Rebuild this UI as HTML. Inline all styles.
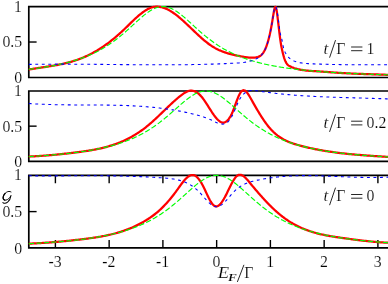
<!DOCTYPE html>
<html><head><meta charset="utf-8"><style>
html,body{margin:0;padding:0;background:#fff;}
body{width:388px;height:284px;position:relative;overflow:hidden;font-family:"Liberation Serif",serif;color:#000;}
</style></head><body>
<svg width="388" height="284" viewBox="0 0 388 284" style="position:absolute;left:0;top:0">
<path d="M393,6.55 L28.8,6.55 L28.8,77.5 L393,77.5" fill="none" stroke="#000" stroke-width="1.7" stroke-linejoin="miter"/>
<path d="M28.8,42.02 h7.8" stroke="#000" stroke-width="1.4" fill="none"/>
<path d="M393,91.0 L28.8,91.0 L28.8,161.3 L393,161.3" fill="none" stroke="#000" stroke-width="1.7" stroke-linejoin="miter"/>
<path d="M28.8,126.15 h7.8" stroke="#000" stroke-width="1.4" fill="none"/>
<path d="M393,175.3 L28.8,175.3 L28.8,247.9 L393,247.9" fill="none" stroke="#000" stroke-width="1.7" stroke-linejoin="miter"/>
<path d="M28.8,211.60 h7.8" stroke="#000" stroke-width="1.4" fill="none"/>
<path d="M55.40,175.3 v8 M55.40,247.9 v-8" stroke="#000" stroke-width="1.4" fill="none"/>
<path d="M109.15,175.3 v8 M109.15,247.9 v-8" stroke="#000" stroke-width="1.4" fill="none"/>
<path d="M162.90,175.3 v8 M162.90,247.9 v-8" stroke="#000" stroke-width="1.4" fill="none"/>
<path d="M216.65,175.3 v8 M216.65,247.9 v-8" stroke="#000" stroke-width="1.4" fill="none"/>
<path d="M270.40,175.3 v8 M270.40,247.9 v-8" stroke="#000" stroke-width="1.4" fill="none"/>
<path d="M324.15,175.3 v8 M324.15,247.9 v-8" stroke="#000" stroke-width="1.4" fill="none"/>
<path d="M377.90,175.3 v8 M377.90,247.9 v-8" stroke="#000" stroke-width="1.4" fill="none"/>
<path d="M28.8,69.53 L29.8,69.36 L30.8,69.19 L31.8,69.03 L32.8,68.86 L33.8,68.70 L34.8,68.55 L35.8,68.39 L36.8,68.24 L37.8,68.08 L38.8,67.93 L39.8,67.78 L40.8,67.63 L41.8,67.48 L42.8,67.33 L43.8,67.18 L44.8,67.03 L45.8,66.88 L46.8,66.73 L47.8,66.57 L48.8,66.42 L49.8,66.26 L50.8,66.09 L51.8,65.93 L52.8,65.76 L53.8,65.59 L54.8,65.42 L55.8,65.24 L56.8,65.05 L57.8,64.86 L58.8,64.67 L59.8,64.47 L60.8,64.27 L61.8,64.06 L62.8,63.84 L63.8,63.62 L64.8,63.38 L65.8,63.15 L66.8,62.90 L67.8,62.65 L68.8,62.39 L69.8,62.12 L70.8,61.84 L71.8,61.55 L72.8,61.25 L73.8,60.95 L74.8,60.63 L75.8,60.30 L76.8,59.97 L77.8,59.62 L78.8,59.26 L79.8,58.89 L80.8,58.50 L81.8,58.11 L82.8,57.70 L83.8,57.28 L84.8,56.85 L85.8,56.40 L86.8,55.94 L87.8,55.47 L88.8,54.98 L89.8,54.48 L90.8,53.97 L91.8,53.45 L92.8,52.91 L93.8,52.36 L94.8,51.80 L95.8,51.22 L96.8,50.64 L97.8,50.03 L98.8,49.42 L99.8,48.79 L100.8,48.15 L101.8,47.50 L102.8,46.83 L103.8,46.15 L104.8,45.45 L105.8,44.75 L106.8,44.03 L107.8,43.29 L108.8,42.54 L109.8,41.78 L110.8,41.01 L111.8,40.22 L112.8,39.42 L113.8,38.61 L114.8,37.78 L115.8,36.94 L116.8,36.09 L117.8,35.22 L118.8,34.34 L119.8,33.45 L120.8,32.54 L121.8,31.62 L122.8,30.68 L123.8,29.73 L124.8,28.77 L125.8,27.80 L126.8,26.83 L127.8,25.84 L128.8,24.86 L129.8,23.88 L130.8,22.89 L131.8,21.92 L132.8,20.95 L133.8,19.99 L134.8,19.05 L135.8,18.12 L136.8,17.21 L137.8,16.32 L138.8,15.45 L139.8,14.61 L140.8,13.80 L141.8,13.02 L142.8,12.27 L143.8,11.56 L144.8,10.88 L145.8,10.25 L146.8,9.66 L147.8,9.11 L148.8,8.62 L149.8,8.17 L150.8,7.78 L151.8,7.45 L152.8,7.17 L153.8,6.95 L154.8,6.80 L155.8,6.70 L156.8,6.66 L157.8,6.68 L158.8,6.75 L159.8,6.87 L160.8,7.05 L161.8,7.27 L162.8,7.54 L163.8,7.86 L164.8,8.22 L165.8,8.62 L166.8,9.07 L167.8,9.55 L168.8,10.08 L169.8,10.64 L170.8,11.23 L171.8,11.86 L172.8,12.52 L173.8,13.21 L174.8,13.93 L175.8,14.67 L176.8,15.44 L177.8,16.24 L178.8,17.05 L179.8,17.89 L180.8,18.75 L181.8,19.62 L182.8,20.51 L183.8,21.42 L184.8,22.33 L185.8,23.26 L186.8,24.20 L187.8,25.14 L188.8,26.10 L189.8,27.05 L190.8,28.01 L191.8,28.97 L192.8,29.93 L193.8,30.89 L194.8,31.85 L195.8,32.80 L196.8,33.75 L197.8,34.68 L198.8,35.61 L199.8,36.53 L200.8,37.43 L201.8,38.32 L202.8,39.19 L203.8,40.05 L204.8,40.88 L205.8,41.70 L206.8,42.49 L207.8,43.26 L208.8,44.01 L209.8,44.72 L210.8,45.41 L211.8,46.07 L212.8,46.70 L213.8,47.30 L214.8,47.88 L215.8,48.43 L216.8,48.95 L217.8,49.45 L218.8,49.93 L219.8,50.38 L220.8,50.82 L221.8,51.23 L222.8,51.62 L223.8,51.99 L224.8,52.35 L225.8,52.69 L226.8,53.01 L227.8,53.32 L228.8,53.61 L229.8,53.89 L230.8,54.16 L231.8,54.41 L232.8,54.65 L233.8,54.89 L234.8,55.11 L235.8,55.33 L236.8,55.54 L237.8,55.74 L238.8,55.94 L239.8,56.13 L240.8,56.32 L241.8,56.50 L242.8,56.69 L243.8,56.86 L244.8,57.03 L245.8,57.18 L246.8,57.32 L247.8,57.44 L248.8,57.55 L249.8,57.62 L250.8,57.67 L251.8,57.69 L252.8,57.68 L253.8,57.63 L254.8,57.54 L255.8,57.41 L256.8,57.23 L257.8,56.99 L258.8,56.63 L259.8,56.13 L260.0,56.01 L260.4,55.74 L260.8,55.44 L261.2,55.10 L261.6,54.73 L262.0,54.31 L262.4,53.85 L262.8,53.34 L263.2,52.79 L263.6,52.18 L264.0,51.52 L264.4,50.80 L264.8,50.02 L265.2,49.19 L265.6,48.28 L266.0,47.32 L266.4,46.28 L266.8,45.17 L267.2,43.99 L267.6,42.73 L268.0,41.39 L268.4,39.97 L268.8,38.46 L269.2,36.86 L269.6,35.18 L270.0,33.40 L270.4,31.53 L270.8,29.56 L271.2,27.48 L271.6,25.31 L272.0,23.03 L272.4,20.63 L272.8,18.14 L273.2,15.63 L273.6,13.21 L274.0,11.02 L274.4,9.16 L274.8,7.77 L275.2,6.96 L275.6,6.86 L276.0,7.58 L276.4,9.16 L276.8,11.44 L277.2,14.25 L277.6,17.43 L278.0,20.80 L278.4,24.23 L278.8,27.67 L279.2,31.06 L279.6,34.35 L280.0,37.49 L280.4,40.44 L280.8,43.14 L281.2,45.54 L281.6,47.66 L282.0,49.55 L282.4,51.28 L282.8,52.93 L283.2,54.50 L283.6,55.99 L284.0,57.36 L284.4,58.61 L284.8,59.73 L285.2,60.73 L285.6,61.61 L286.0,62.39 L286.4,63.08 L286.8,63.67 L287.2,64.19 L287.6,64.64 L288.0,65.02 L288.4,65.35 L288.8,65.64 L289.2,65.89 L289.6,66.10 L290.0,66.30 L290.4,66.49 L290.8,66.67 L291.2,66.85 L291.6,67.02 L292.0,67.19 L293.0,67.58 L294.0,67.95 L295.0,68.29 L296.0,68.59 L297.0,68.88 L298.0,69.14 L299.0,69.37 L300.0,69.59 L301.0,69.79 L302.0,69.96 L303.0,70.12 L304.0,70.26 L305.0,70.39 L306.0,70.51 L307.0,70.61 L308.0,70.70 L309.0,70.79 L310.0,70.86 L311.0,70.94 L312.0,71.00 L313.0,71.06 L314.0,71.12 L315.0,71.18 L316.0,71.24 L317.0,71.30 L318.0,71.37 L319.0,71.43 L320.0,71.50 L321.0,71.57 L322.0,71.64 L323.0,71.71 L324.0,71.78 L325.0,71.85 L326.0,71.92 L327.0,71.99 L328.0,72.07 L329.0,72.14 L330.0,72.21 L331.0,72.29 L332.0,72.36 L333.0,72.43 L334.0,72.50 L335.0,72.57 L336.0,72.64 L337.0,72.71 L338.0,72.78 L339.0,72.84 L340.0,72.91 L341.0,72.97 L342.0,73.03 L343.0,73.09 L344.0,73.15 L345.0,73.20 L346.0,73.25 L347.0,73.31 L348.0,73.36 L349.0,73.41 L350.0,73.45 L351.0,73.50 L352.0,73.54 L353.0,73.59 L354.0,73.63 L355.0,73.67 L356.0,73.71 L357.0,73.75 L358.0,73.79 L359.0,73.83 L360.0,73.87 L361.0,73.91 L362.0,73.94 L363.0,73.98 L364.0,74.01 L365.0,74.05 L366.0,74.08 L367.0,74.11 L368.0,74.15 L369.0,74.18 L370.0,74.21 L371.0,74.25 L372.0,74.28 L373.0,74.31 L374.0,74.34 L375.0,74.38 L376.0,74.41 L377.0,74.44 L378.0,74.48 L379.0,74.51 L380.0,74.54 L381.0,74.58 L382.0,74.61 L383.0,74.65 L384.0,74.69 L385.0,74.72 L386.0,74.76 L387.0,74.80 L388.0,74.84 L389.0,74.84 L390.0,74.84" fill="none" stroke="#ff0000" stroke-width="2.25" stroke-linejoin="round"/>
<path d="M28.8,69.37 L29.8,69.26 L30.8,69.14 L31.8,69.01 L32.8,68.89 L33.8,68.76 L34.8,68.63 L35.8,68.50 L36.8,68.36 L37.8,68.22 L38.8,68.08 L39.8,67.94 L40.8,67.79 L41.8,67.65 L42.8,67.49 L43.8,67.34 L44.8,67.18 L45.8,67.02 L46.8,66.85 L47.8,66.68 L48.8,66.51 L49.8,66.34 L50.8,66.16 L51.8,65.98 L52.8,65.79 L53.8,65.60 L54.8,65.40 L55.8,65.20 L56.8,65.00 L57.8,64.79 L58.8,64.58 L59.8,64.36 L60.8,64.14 L61.8,63.92 L62.8,63.68 L63.8,63.45 L64.8,63.21 L65.8,62.96 L66.8,62.71 L67.8,62.45 L68.8,62.18 L69.8,61.91 L70.8,61.64 L71.8,61.36 L72.8,61.07 L73.8,60.77 L74.8,60.47 L75.8,60.16 L76.8,59.84 L77.8,59.52 L78.8,59.19 L79.8,58.85 L80.8,58.50 L81.8,58.15 L82.8,57.78 L83.8,57.41 L84.8,57.03 L85.8,56.64 L86.8,56.24 L87.8,55.83 L88.8,55.42 L89.8,54.99 L90.8,54.55 L91.8,54.10 L92.8,53.64 L93.8,53.17 L94.8,52.69 L95.8,52.20 L96.8,51.70 L97.8,51.19 L98.8,50.66 L99.8,50.12 L100.8,49.57 L101.8,49.01 L102.8,48.43 L103.8,47.84 L104.8,47.24 L105.8,46.63 L106.8,46.00 L107.8,45.36 L108.8,44.70 L109.8,44.03 L110.8,43.35 L111.8,42.65 L112.8,41.94 L113.8,41.22 L114.8,40.48 L115.8,39.73 L116.8,38.96 L117.8,38.18 L118.8,37.39 L119.8,36.58 L120.8,35.77 L121.8,34.93 L122.8,34.09 L123.8,33.24 L124.8,32.38 L125.8,31.50 L126.8,30.62 L127.8,29.73 L128.8,28.83 L129.8,27.92 L130.8,27.01 L131.8,26.10 L132.8,25.18 L133.8,24.26 L134.8,23.35 L135.8,22.43 L136.8,21.52 L137.8,20.62 L138.8,19.72 L139.8,18.83 L140.8,17.96 L141.8,17.09 L142.8,16.25 L143.8,15.43 L144.8,14.62 L145.8,13.84 L146.8,13.09 L147.8,12.37 L148.8,11.67 L149.8,11.02 L150.8,10.40 L151.8,9.81 L152.8,9.27 L153.8,8.78 L154.8,8.33 L155.8,7.92 L156.8,7.57 L157.8,7.26 L158.8,7.01 L159.8,6.82 L160.8,6.67 L161.8,6.58 L162.8,6.55 L163.8,6.57 L164.8,6.65 L165.8,6.78 L166.8,6.97 L167.8,7.21 L168.8,7.50 L169.8,7.85 L170.8,8.24 L171.8,8.68 L172.8,9.17 L173.8,9.70 L174.8,10.28 L175.8,10.89 L176.8,11.54 L177.8,12.23 L178.8,12.94 L179.8,13.69 L180.8,14.46 L181.8,15.26 L182.8,16.08 L183.8,16.92 L184.8,17.78 L185.8,18.65 L186.8,19.54 L187.8,20.44 L188.8,21.34 L189.8,22.25 L190.8,23.16 L191.8,24.08 L192.8,25.00 L193.8,25.92 L194.8,26.83 L195.8,27.74 L196.8,28.65 L197.8,29.55 L198.8,30.44 L199.8,31.33 L200.8,32.20 L201.8,33.07 L202.8,33.92 L203.8,34.77 L204.8,35.60 L205.8,36.42 L206.8,37.23 L207.8,38.02 L208.8,38.81 L209.8,39.57 L210.8,40.33 L211.8,41.07 L212.8,41.80 L213.8,42.51 L214.8,43.21 L215.8,43.90 L216.8,44.57 L217.8,45.23 L218.8,45.87 L219.8,46.50 L220.8,47.12 L221.8,47.72 L222.8,48.32 L223.8,48.89 L224.8,49.46 L225.8,50.01 L226.8,50.55 L227.8,51.08 L228.8,51.60 L229.8,52.10 L230.8,52.60 L231.8,53.08 L232.8,53.55 L233.8,54.01 L234.8,54.46 L235.8,54.90 L236.8,55.33 L237.8,55.75 L238.8,56.16 L239.8,56.56 L240.8,56.95 L241.8,57.33 L242.8,57.71 L243.8,58.07 L244.8,58.43 L245.8,58.78 L246.8,59.12 L247.8,59.45 L248.8,59.78 L249.8,60.10 L250.8,60.41 L251.8,60.71 L252.8,61.01 L253.8,61.30 L254.8,61.58 L255.8,61.86 L256.8,62.13 L257.8,62.40 L258.8,62.66 L259.8,62.91 L260.0,62.96 L260.4,63.06 L260.8,63.16 L261.2,63.26 L261.6,63.35 L262.0,63.45 L262.4,63.54 L262.8,63.64 L263.2,63.73 L263.6,63.82 L264.0,63.92 L264.4,64.01 L264.8,64.10 L265.2,64.19 L265.6,64.28 L266.0,64.36 L266.4,64.45 L266.8,64.54 L267.2,64.62 L267.6,64.71 L268.0,64.79 L268.4,64.88 L268.8,64.96 L269.2,65.04 L269.6,65.12 L270.0,65.20 L270.4,65.28 L270.8,65.36 L271.2,65.44 L271.6,65.52 L272.0,65.60 L272.4,65.67 L272.8,65.75 L273.2,65.83 L273.6,65.90 L274.0,65.98 L274.4,66.05 L274.8,66.12 L275.2,66.19 L275.6,66.27 L276.0,66.34 L276.4,66.41 L276.8,66.48 L277.2,66.55 L277.6,66.62 L278.0,66.68 L278.4,66.75 L278.8,66.82 L279.2,66.89 L279.6,66.95 L280.0,67.02 L280.4,67.08 L280.8,67.15 L281.2,67.21 L281.6,67.28 L282.0,67.34 L282.4,67.40 L282.8,67.46 L283.2,67.52 L283.6,67.59 L284.0,67.65 L284.4,67.71 L284.8,67.77 L285.2,67.82 L285.6,67.88 L286.0,67.94 L286.4,68.00 L286.8,68.06 L287.2,68.11 L287.6,68.17 L288.0,68.22 L288.4,68.28 L288.8,68.34 L289.2,68.39 L289.6,68.44 L290.0,68.50 L290.4,68.55 L290.8,68.60 L291.2,68.66 L291.6,68.71 L292.0,68.76 L293.0,68.89 L294.0,69.01 L295.0,69.14 L296.0,69.26 L297.0,69.37 L298.0,69.49 L299.0,69.60 L300.0,69.72 L301.0,69.82 L302.0,69.93 L303.0,70.04 L304.0,70.14 L305.0,70.24 L306.0,70.34 L307.0,70.44 L308.0,70.54 L309.0,70.63 L310.0,70.73 L311.0,70.82 L312.0,70.91 L313.0,70.99 L314.0,71.08 L315.0,71.17 L316.0,71.25 L317.0,71.33 L318.0,71.41 L319.0,71.49 L320.0,71.57 L321.0,71.65 L322.0,71.72 L323.0,71.80 L324.0,71.87 L325.0,71.94 L326.0,72.01 L327.0,72.08 L328.0,72.15 L329.0,72.22 L330.0,72.28 L331.0,72.35 L332.0,72.41 L333.0,72.48 L334.0,72.54 L335.0,72.60 L336.0,72.66 L337.0,72.72 L338.0,72.78 L339.0,72.83 L340.0,72.89 L341.0,72.94 L342.0,73.00 L343.0,73.05 L344.0,73.11 L345.0,73.16 L346.0,73.21 L347.0,73.26 L348.0,73.31 L349.0,73.36 L350.0,73.41 L351.0,73.45 L352.0,73.50 L353.0,73.55 L354.0,73.59 L355.0,73.64 L356.0,73.68 L357.0,73.73 L358.0,73.77 L359.0,73.81 L360.0,73.85 L361.0,73.89 L362.0,73.93 L363.0,73.97 L364.0,74.01 L365.0,74.05 L366.0,74.09 L367.0,74.13 L368.0,74.16 L369.0,74.20 L370.0,74.24 L371.0,74.27 L372.0,74.31 L373.0,74.34 L374.0,74.38 L375.0,74.41 L376.0,74.44 L377.0,74.48 L378.0,74.51 L379.0,74.54 L380.0,74.57 L381.0,74.60 L382.0,74.63 L383.0,74.66 L384.0,74.69 L385.0,74.72 L386.0,74.75 L387.0,74.78 L388.0,74.81 L389.0,74.84 L390.0,74.86" fill="none" stroke="#00ff00" stroke-width="1.15" stroke-dasharray="5.3 2.2"/>
<path d="M28.8,64.40 L29.8,64.39 L30.8,64.37 L31.8,64.36 L32.8,64.34 L33.8,64.33 L34.8,64.31 L35.8,64.30 L36.8,64.29 L37.8,64.28 L38.8,64.27 L39.8,64.25 L40.8,64.24 L41.8,64.24 L42.8,64.23 L43.8,64.22 L44.8,64.21 L45.8,64.20 L46.8,64.20 L47.8,64.19 L48.8,64.18 L49.8,64.18 L50.8,64.17 L51.8,64.17 L52.8,64.17 L53.8,64.16 L54.8,64.16 L55.8,64.16 L56.8,64.16 L57.8,64.15 L58.8,64.15 L59.8,64.15 L60.8,64.15 L61.8,64.15 L62.8,64.15 L63.8,64.15 L64.8,64.16 L65.8,64.16 L66.8,64.16 L67.8,64.16 L68.8,64.16 L69.8,64.17 L70.8,64.17 L71.8,64.18 L72.8,64.18 L73.8,64.18 L74.8,64.19 L75.8,64.19 L76.8,64.20 L77.8,64.20 L78.8,64.21 L79.8,64.22 L80.8,64.22 L81.8,64.23 L82.8,64.24 L83.8,64.24 L84.8,64.25 L85.8,64.26 L86.8,64.27 L87.8,64.27 L88.8,64.28 L89.8,64.29 L90.8,64.30 L91.8,64.31 L92.8,64.32 L93.8,64.32 L94.8,64.33 L95.8,64.34 L96.8,64.35 L97.8,64.36 L98.8,64.37 L99.8,64.38 L100.8,64.39 L101.8,64.40 L102.8,64.41 L103.8,64.42 L104.8,64.43 L105.8,64.44 L106.8,64.45 L107.8,64.46 L108.8,64.47 L109.8,64.48 L110.8,64.49 L111.8,64.50 L112.8,64.51 L113.8,64.52 L114.8,64.53 L115.8,64.54 L116.8,64.55 L117.8,64.56 L118.8,64.57 L119.8,64.58 L120.8,64.59 L121.8,64.60 L122.8,64.61 L123.8,64.62 L124.8,64.63 L125.8,64.64 L126.8,64.65 L127.8,64.66 L128.8,64.66 L129.8,64.67 L130.8,64.68 L131.8,64.69 L132.8,64.70 L133.8,64.71 L134.8,64.71 L135.8,64.72 L136.8,64.73 L137.8,64.74 L138.8,64.74 L139.8,64.75 L140.8,64.76 L141.8,64.76 L142.8,64.77 L143.8,64.78 L144.8,64.78 L145.8,64.79 L146.8,64.79 L147.8,64.80 L148.8,64.80 L149.8,64.80 L150.8,64.81 L151.8,64.81 L152.8,64.82 L153.8,64.82 L154.8,64.82 L155.8,64.82 L156.8,64.82 L157.8,64.83 L158.8,64.83 L159.8,64.83 L160.8,64.83 L161.8,64.83 L162.8,64.83 L163.8,64.83 L164.8,64.82 L165.8,64.82 L166.8,64.82 L167.8,64.82 L168.8,64.81 L169.8,64.81 L170.8,64.81 L171.8,64.80 L172.8,64.80 L173.8,64.79 L174.8,64.78 L175.8,64.78 L176.8,64.77 L177.8,64.76 L178.8,64.75 L179.8,64.75 L180.8,64.74 L181.8,64.73 L182.8,64.72 L183.8,64.71 L184.8,64.69 L185.8,64.68 L186.8,64.67 L187.8,64.65 L188.8,64.64 L189.8,64.63 L190.8,64.61 L191.8,64.59 L192.8,64.58 L193.8,64.56 L194.8,64.54 L195.8,64.52 L196.8,64.50 L197.8,64.48 L198.8,64.46 L199.8,64.44 L200.8,64.42 L201.8,64.40 L202.8,64.37 L203.8,64.35 L204.8,64.32 L205.8,64.30 L206.8,64.27 L207.8,64.24 L208.8,64.21 L209.8,64.19 L210.8,64.16 L211.8,64.12 L212.8,64.09 L213.8,64.06 L214.8,64.03 L215.8,63.99 L216.8,63.96 L217.8,63.92 L218.8,63.89 L219.8,63.85 L220.8,63.81 L221.8,63.77 L222.8,63.73 L223.8,63.69 L224.8,63.65 L225.8,63.61 L226.8,63.56 L227.8,63.52 L228.8,63.47 L229.8,63.42 L230.8,63.38 L231.8,63.33 L232.8,63.28 L233.8,63.23 L234.8,63.18 L235.8,63.12 L236.8,63.06 L237.8,63.00 L238.8,62.93 L239.8,62.85 L240.8,62.77 L241.8,62.67 L242.8,62.56 L243.8,62.43 L244.8,62.29 L245.8,62.13 L246.8,61.96 L247.8,61.77 L248.8,61.55 L249.8,61.31 L250.8,61.05 L251.8,60.76 L252.8,60.42 L253.8,60.05 L254.8,59.62 L255.8,59.14 L256.8,58.60 L257.8,57.99 L258.8,57.31 L259.8,56.54 L260.0,56.38 L260.4,56.03 L260.8,55.66 L261.2,55.26 L261.6,54.84 L262.0,54.38 L262.4,53.89 L262.8,53.36 L263.2,52.78 L263.6,52.17 L264.0,51.50 L264.4,50.79 L264.8,50.02 L265.2,49.19 L265.6,48.31 L266.0,47.36 L266.4,46.35 L266.8,45.27 L267.2,44.12 L267.6,42.90 L268.0,41.59 L268.4,40.21 L268.8,38.74 L269.2,37.19 L269.6,35.55 L270.0,33.81 L270.4,31.96 L270.8,30.01 L271.2,27.93 L271.6,25.72 L272.0,23.37 L272.4,20.87 L272.8,18.22 L273.2,15.52 L273.6,12.94 L274.0,10.63 L274.4,8.74 L274.8,7.42 L275.2,6.78 L275.6,6.76 L276.0,7.33 L276.4,8.41 L276.8,9.98 L277.2,11.96 L277.6,14.31 L278.0,16.98 L278.4,19.92 L278.8,23.04 L279.2,26.20 L279.6,29.19 L280.0,31.84 L280.4,33.97 L280.8,35.61 L281.2,37.02 L281.6,38.44 L282.0,40.12 L282.4,42.09 L282.8,44.18 L283.2,46.18 L283.6,47.91 L284.0,49.36 L284.4,50.56 L284.8,51.56 L285.2,52.41 L285.6,53.16 L286.0,53.84 L286.4,54.49 L286.8,55.08 L287.2,55.64 L287.6,56.16 L288.0,56.65 L288.4,57.10 L288.8,57.51 L289.2,57.90 L289.6,58.26 L290.0,58.59 L290.4,58.90 L290.8,59.18 L291.2,59.45 L291.6,59.69 L292.0,59.92 L293.0,60.43 L294.0,60.88 L295.0,61.29 L296.0,61.65 L297.0,61.97 L298.0,62.25 L299.0,62.50 L300.0,62.72 L301.0,62.90 L302.0,63.06 L303.0,63.20 L304.0,63.31 L305.0,63.41 L306.0,63.49 L307.0,63.56 L308.0,63.61 L309.0,63.67 L310.0,63.71 L311.0,63.76 L312.0,63.80 L313.0,63.85 L314.0,63.89 L315.0,63.93 L316.0,63.97 L317.0,64.01 L318.0,64.04 L319.0,64.08 L320.0,64.11 L321.0,64.15 L322.0,64.18 L323.0,64.21 L324.0,64.24 L325.0,64.27 L326.0,64.30 L327.0,64.33 L328.0,64.35 L329.0,64.38 L330.0,64.40 L331.0,64.43 L332.0,64.45 L333.0,64.47 L334.0,64.49 L335.0,64.51 L336.0,64.53 L337.0,64.54 L338.0,64.56 L339.0,64.58 L340.0,64.59 L341.0,64.61 L342.0,64.62 L343.0,64.63 L344.0,64.65 L345.0,64.66 L346.0,64.67 L347.0,64.68 L348.0,64.69 L349.0,64.70 L350.0,64.70 L351.0,64.71 L352.0,64.72 L353.0,64.73 L354.0,64.73 L355.0,64.74 L356.0,64.74 L357.0,64.74 L358.0,64.75 L359.0,64.75 L360.0,64.75 L361.0,64.76 L362.0,64.76 L363.0,64.76 L364.0,64.76 L365.0,64.76 L366.0,64.76 L367.0,64.76 L368.0,64.76 L369.0,64.76 L370.0,64.76 L371.0,64.75 L372.0,64.75 L373.0,64.75 L374.0,64.75 L375.0,64.74 L376.0,64.74 L377.0,64.74 L378.0,64.74 L379.0,64.73 L380.0,64.73 L381.0,64.72 L382.0,64.72 L383.0,64.72 L384.0,64.71 L385.0,64.71 L386.0,64.71 L387.0,64.70 L388.0,64.70 L389.0,64.69 L390.0,64.69" fill="none" stroke="#0000ff" stroke-width="1.08" stroke-dasharray="2.9 3.6"/>
<path d="M28.8,156.56 L29.8,156.51 L30.8,156.47 L31.8,156.42 L32.8,156.37 L33.8,156.32 L34.8,156.26 L35.8,156.20 L36.8,156.15 L37.8,156.08 L38.8,156.02 L39.8,155.96 L40.8,155.89 L41.8,155.82 L42.8,155.75 L43.8,155.68 L44.8,155.60 L45.8,155.52 L46.8,155.45 L47.8,155.37 L48.8,155.28 L49.8,155.20 L50.8,155.11 L51.8,155.03 L52.8,154.94 L53.8,154.84 L54.8,154.75 L55.8,154.66 L56.8,154.56 L57.8,154.46 L58.8,154.36 L59.8,154.26 L60.8,154.16 L61.8,154.05 L62.8,153.95 L63.8,153.84 L64.8,153.73 L65.8,153.62 L66.8,153.51 L67.8,153.39 L68.8,153.28 L69.8,153.16 L70.8,153.04 L71.8,152.92 L72.8,152.80 L73.8,152.68 L74.8,152.55 L75.8,152.43 L76.8,152.30 L77.8,152.17 L78.8,152.04 L79.8,151.91 L80.8,151.78 L81.8,151.64 L82.8,151.50 L83.8,151.36 L84.8,151.22 L85.8,151.07 L86.8,150.92 L87.8,150.77 L88.8,150.61 L89.8,150.45 L90.8,150.28 L91.8,150.11 L92.8,149.93 L93.8,149.75 L94.8,149.56 L95.8,149.37 L96.8,149.17 L97.8,148.97 L98.8,148.75 L99.8,148.54 L100.8,148.31 L101.8,148.08 L102.8,147.84 L103.8,147.60 L104.8,147.34 L105.8,147.08 L106.8,146.81 L107.8,146.53 L108.8,146.24 L109.8,145.95 L110.8,145.64 L111.8,145.32 L112.8,145.00 L113.8,144.66 L114.8,144.32 L115.8,143.96 L116.8,143.60 L117.8,143.22 L118.8,142.83 L119.8,142.43 L120.8,142.02 L121.8,141.60 L122.8,141.16 L123.8,140.72 L124.8,140.26 L125.8,139.78 L126.8,139.30 L127.8,138.80 L128.8,138.29 L129.8,137.76 L130.8,137.22 L131.8,136.67 L132.8,136.10 L133.8,135.51 L134.8,134.91 L135.8,134.30 L136.8,133.67 L137.8,133.03 L138.8,132.37 L139.8,131.69 L140.8,131.00 L141.8,130.29 L142.8,129.56 L143.8,128.82 L144.8,128.05 L145.8,127.28 L146.8,126.48 L147.8,125.66 L148.8,124.83 L149.8,123.98 L150.8,123.12 L151.8,122.24 L152.8,121.34 L153.8,120.44 L154.8,119.52 L155.8,118.59 L156.8,117.65 L157.8,116.71 L158.8,115.76 L159.8,114.80 L160.8,113.84 L161.8,112.88 L162.8,111.92 L163.8,110.95 L164.8,109.98 L165.8,109.02 L166.8,108.06 L167.8,107.10 L168.8,106.15 L169.8,105.21 L170.8,104.27 L171.8,103.34 L172.8,102.42 L173.8,101.51 L174.8,100.62 L175.8,99.73 L176.8,98.87 L177.8,98.01 L178.8,97.18 L179.8,96.36 L180.8,95.56 L181.8,94.79 L182.8,94.06 L183.8,93.38 L184.8,92.75 L185.8,92.18 L186.8,91.69 L187.8,91.28 L188.8,90.96 L189.8,90.74 L190.8,90.63 L191.8,90.64 L192.8,90.76 L193.8,91.00 L194.8,91.36 L195.8,91.83 L196.8,92.41 L197.8,93.11 L198.8,93.93 L199.8,94.86 L200.8,95.90 L201.8,97.05 L202.8,98.31 L203.8,99.67 L204.8,101.10 L205.8,102.60 L206.8,104.14 L207.8,105.71 L208.8,107.30 L209.8,108.89 L210.8,110.47 L211.8,112.01 L212.8,113.51 L213.8,114.94 L214.8,116.30 L215.8,117.57 L216.8,118.73 L217.8,119.77 L218.8,120.67 L219.8,121.41 L220.8,121.99 L221.8,122.38 L222.8,122.57 L223.8,122.55 L224.8,122.30 L225.8,121.83 L226.8,121.12 L227.8,120.17 L228.8,118.96 L229.8,117.49 L230.8,115.75 L231.8,113.74 L232.8,111.44 L233.8,108.90 L234.8,106.21 L235.8,103.46 L236.8,100.75 L237.8,98.16 L238.8,95.80 L239.8,93.75 L240.8,92.11 L241.8,90.96 L242.8,90.34 L243.8,90.22 L244.8,90.52 L245.8,91.22 L246.8,92.25 L247.8,93.56 L248.8,95.08 L249.8,96.76 L250.8,98.52 L251.8,100.31 L252.8,102.10 L253.8,103.87 L254.8,105.63 L255.8,107.36 L256.8,109.08 L257.8,110.76 L258.8,112.43 L259.8,114.06 L260.0,114.38 L260.4,115.02 L260.8,115.66 L261.2,116.29 L261.6,116.91 L262.0,117.53 L262.4,118.14 L262.8,118.74 L263.2,119.34 L263.6,119.93 L264.0,120.52 L264.4,121.10 L264.8,121.67 L265.2,122.23 L265.6,122.78 L266.0,123.33 L266.4,123.87 L266.8,124.40 L267.2,124.92 L267.6,125.44 L268.0,125.94 L268.4,126.44 L268.8,126.93 L269.2,127.40 L269.6,127.87 L270.0,128.33 L270.4,128.78 L270.8,129.23 L271.2,129.66 L271.6,130.09 L272.0,130.50 L272.4,130.91 L272.8,131.31 L273.2,131.71 L273.6,132.09 L274.0,132.47 L274.4,132.84 L274.8,133.20 L275.2,133.55 L275.6,133.90 L276.0,134.24 L276.4,134.57 L276.8,134.90 L277.2,135.21 L277.6,135.53 L278.0,135.83 L278.4,136.13 L278.8,136.42 L279.2,136.71 L279.6,136.99 L280.0,137.26 L280.4,137.53 L280.8,137.79 L281.2,138.04 L281.6,138.29 L282.0,138.54 L282.4,138.78 L282.8,139.01 L283.2,139.24 L283.6,139.46 L284.0,139.68 L284.4,139.89 L284.8,140.10 L285.2,140.30 L285.6,140.50 L286.0,140.70 L286.4,140.89 L286.8,141.07 L287.2,141.25 L287.6,141.43 L288.0,141.60 L288.4,141.77 L288.8,141.94 L289.2,142.10 L289.6,142.26 L290.0,142.42 L290.4,142.57 L290.8,142.72 L291.2,142.87 L291.6,143.01 L292.0,143.15 L293.0,143.49 L294.0,143.82 L295.0,144.13 L296.0,144.43 L297.0,144.72 L298.0,145.01 L299.0,145.28 L300.0,145.55 L301.0,145.82 L302.0,146.08 L303.0,146.34 L304.0,146.59 L305.0,146.84 L306.0,147.08 L307.0,147.32 L308.0,147.56 L309.0,147.79 L310.0,148.01 L311.0,148.23 L312.0,148.45 L313.0,148.66 L314.0,148.87 L315.0,149.08 L316.0,149.28 L317.0,149.47 L318.0,149.67 L319.0,149.85 L320.0,150.04 L321.0,150.22 L322.0,150.40 L323.0,150.57 L324.0,150.74 L325.0,150.91 L326.0,151.07 L327.0,151.23 L328.0,151.39 L329.0,151.54 L330.0,151.69 L331.0,151.84 L332.0,151.98 L333.0,152.12 L334.0,152.26 L335.0,152.40 L336.0,152.53 L337.0,152.66 L338.0,152.79 L339.0,152.91 L340.0,153.03 L341.0,153.15 L342.0,153.27 L343.0,153.38 L344.0,153.49 L345.0,153.60 L346.0,153.71 L347.0,153.81 L348.0,153.91 L349.0,154.01 L350.0,154.11 L351.0,154.21 L352.0,154.30 L353.0,154.39 L354.0,154.49 L355.0,154.57 L356.0,154.66 L357.0,154.75 L358.0,154.83 L359.0,154.91 L360.0,154.99 L361.0,155.07 L362.0,155.15 L363.0,155.23 L364.0,155.30 L365.0,155.38 L366.0,155.45 L367.0,155.53 L368.0,155.60 L369.0,155.67 L370.0,155.74 L371.0,155.81 L372.0,155.87 L373.0,155.94 L374.0,156.01 L375.0,156.07 L376.0,156.14 L377.0,156.20 L378.0,156.27 L379.0,156.33 L380.0,156.40 L381.0,156.46 L382.0,156.52 L383.0,156.59 L384.0,156.65 L385.0,156.71 L386.0,156.78 L387.0,156.84 L388.0,156.90 L389.0,156.97 L390.0,157.03" fill="none" stroke="#ff0000" stroke-width="2.25" stroke-linejoin="round"/>
<path d="M28.8,156.60 L29.8,156.54 L30.8,156.49 L31.8,156.43 L32.8,156.36 L33.8,156.30 L34.8,156.24 L35.8,156.18 L36.8,156.11 L37.8,156.05 L38.8,155.98 L39.8,155.91 L40.8,155.84 L41.8,155.77 L42.8,155.70 L43.8,155.63 L44.8,155.55 L45.8,155.48 L46.8,155.40 L47.8,155.33 L48.8,155.25 L49.8,155.17 L50.8,155.08 L51.8,155.00 L52.8,154.92 L53.8,154.83 L54.8,154.74 L55.8,154.65 L56.8,154.56 L57.8,154.47 L58.8,154.38 L59.8,154.28 L60.8,154.18 L61.8,154.09 L62.8,153.98 L63.8,153.88 L64.8,153.78 L65.8,153.67 L66.8,153.56 L67.8,153.45 L68.8,153.34 L69.8,153.22 L70.8,153.11 L71.8,152.99 L72.8,152.87 L73.8,152.74 L74.8,152.62 L75.8,152.49 L76.8,152.36 L77.8,152.23 L78.8,152.09 L79.8,151.95 L80.8,151.81 L81.8,151.67 L82.8,151.52 L83.8,151.37 L84.8,151.22 L85.8,151.06 L86.8,150.90 L87.8,150.74 L88.8,150.57 L89.8,150.40 L90.8,150.23 L91.8,150.06 L92.8,149.88 L93.8,149.69 L94.8,149.51 L95.8,149.32 L96.8,149.12 L97.8,148.92 L98.8,148.72 L99.8,148.51 L100.8,148.30 L101.8,148.08 L102.8,147.86 L103.8,147.63 L104.8,147.40 L105.8,147.17 L106.8,146.93 L107.8,146.68 L108.8,146.43 L109.8,146.17 L110.8,145.91 L111.8,145.64 L112.8,145.36 L113.8,145.08 L114.8,144.79 L115.8,144.50 L116.8,144.20 L117.8,143.89 L118.8,143.58 L119.8,143.26 L120.8,142.93 L121.8,142.59 L122.8,142.25 L123.8,141.90 L124.8,141.54 L125.8,141.17 L126.8,140.79 L127.8,140.41 L128.8,140.01 L129.8,139.61 L130.8,139.20 L131.8,138.78 L132.8,138.35 L133.8,137.90 L134.8,137.45 L135.8,136.99 L136.8,136.52 L137.8,136.04 L138.8,135.54 L139.8,135.04 L140.8,134.52 L141.8,133.99 L142.8,133.45 L143.8,132.90 L144.8,132.34 L145.8,131.76 L146.8,131.17 L147.8,130.57 L148.8,129.96 L149.8,129.33 L150.8,128.69 L151.8,128.04 L152.8,127.37 L153.8,126.69 L154.8,126.00 L155.8,125.30 L156.8,124.58 L157.8,123.85 L158.8,123.10 L159.8,122.35 L160.8,121.58 L161.8,120.80 L162.8,120.00 L163.8,119.20 L164.8,118.38 L165.8,117.55 L166.8,116.72 L167.8,115.87 L168.8,115.01 L169.8,114.15 L170.8,113.28 L171.8,112.40 L172.8,111.52 L173.8,110.64 L174.8,109.75 L175.8,108.86 L176.8,107.97 L177.8,107.08 L178.8,106.20 L179.8,105.32 L180.8,104.44 L181.8,103.58 L182.8,102.72 L183.8,101.88 L184.8,101.05 L185.8,100.24 L186.8,99.45 L187.8,98.68 L188.8,97.94 L189.8,97.22 L190.8,96.53 L191.8,95.87 L192.8,95.24 L193.8,94.65 L194.8,94.10 L195.8,93.58 L196.8,93.11 L197.8,92.68 L198.8,92.30 L199.8,91.96 L200.8,91.68 L201.8,91.44 L202.8,91.25 L203.8,91.12 L204.8,91.03 L205.8,91.00 L206.8,91.02 L207.8,91.09 L208.8,91.22 L209.8,91.40 L210.8,91.63 L211.8,91.90 L212.8,92.23 L213.8,92.60 L214.8,93.02 L215.8,93.49 L216.8,93.99 L217.8,94.54 L218.8,95.12 L219.8,95.74 L220.8,96.39 L221.8,97.08 L222.8,97.79 L223.8,98.53 L224.8,99.30 L225.8,100.08 L226.8,100.89 L227.8,101.71 L228.8,102.55 L229.8,103.41 L230.8,104.27 L231.8,105.14 L232.8,106.02 L233.8,106.90 L234.8,107.79 L235.8,108.68 L236.8,109.57 L237.8,110.46 L238.8,111.35 L239.8,112.23 L240.8,113.11 L241.8,113.98 L242.8,114.84 L243.8,115.70 L244.8,116.55 L245.8,117.39 L246.8,118.22 L247.8,119.03 L248.8,119.84 L249.8,120.64 L250.8,121.42 L251.8,122.19 L252.8,122.95 L253.8,123.70 L254.8,124.43 L255.8,125.15 L256.8,125.86 L257.8,126.56 L258.8,127.24 L259.8,127.91 L260.0,128.04 L260.4,128.30 L260.8,128.56 L261.2,128.82 L261.6,129.08 L262.0,129.33 L262.4,129.58 L262.8,129.83 L263.2,130.08 L263.6,130.33 L264.0,130.57 L264.4,130.81 L264.8,131.05 L265.2,131.29 L265.6,131.53 L266.0,131.76 L266.4,131.99 L266.8,132.22 L267.2,132.45 L267.6,132.68 L268.0,132.90 L268.4,133.12 L268.8,133.34 L269.2,133.56 L269.6,133.78 L270.0,133.99 L270.4,134.21 L270.8,134.42 L271.2,134.62 L271.6,134.83 L272.0,135.04 L272.4,135.24 L272.8,135.44 L273.2,135.64 L273.6,135.84 L274.0,136.04 L274.4,136.23 L274.8,136.42 L275.2,136.61 L275.6,136.80 L276.0,136.99 L276.4,137.18 L276.8,137.36 L277.2,137.54 L277.6,137.72 L278.0,137.90 L278.4,138.08 L278.8,138.26 L279.2,138.43 L279.6,138.61 L280.0,138.78 L280.4,138.95 L280.8,139.11 L281.2,139.28 L281.6,139.45 L282.0,139.61 L282.4,139.77 L282.8,139.93 L283.2,140.09 L283.6,140.25 L284.0,140.41 L284.4,140.56 L284.8,140.72 L285.2,140.87 L285.6,141.02 L286.0,141.17 L286.4,141.32 L286.8,141.46 L287.2,141.61 L287.6,141.75 L288.0,141.90 L288.4,142.04 L288.8,142.18 L289.2,142.32 L289.6,142.46 L290.0,142.59 L290.4,142.73 L290.8,142.86 L291.2,143.00 L291.6,143.13 L292.0,143.26 L293.0,143.58 L294.0,143.89 L295.0,144.20 L296.0,144.50 L297.0,144.79 L298.0,145.08 L299.0,145.36 L300.0,145.64 L301.0,145.91 L302.0,146.17 L303.0,146.43 L304.0,146.68 L305.0,146.93 L306.0,147.17 L307.0,147.40 L308.0,147.63 L309.0,147.86 L310.0,148.08 L311.0,148.30 L312.0,148.51 L313.0,148.72 L314.0,148.92 L315.0,149.12 L316.0,149.32 L317.0,149.51 L318.0,149.69 L319.0,149.88 L320.0,150.06 L321.0,150.23 L322.0,150.40 L323.0,150.57 L324.0,150.74 L325.0,150.90 L326.0,151.06 L327.0,151.22 L328.0,151.37 L329.0,151.52 L330.0,151.67 L331.0,151.81 L332.0,151.95 L333.0,152.09 L334.0,152.23 L335.0,152.36 L336.0,152.49 L337.0,152.62 L338.0,152.74 L339.0,152.87 L340.0,152.99 L341.0,153.11 L342.0,153.22 L343.0,153.34 L344.0,153.45 L345.0,153.56 L346.0,153.67 L347.0,153.78 L348.0,153.88 L349.0,153.98 L350.0,154.09 L351.0,154.18 L352.0,154.28 L353.0,154.38 L354.0,154.47 L355.0,154.56 L356.0,154.65 L357.0,154.74 L358.0,154.83 L359.0,154.92 L360.0,155.00 L361.0,155.08 L362.0,155.17 L363.0,155.25 L364.0,155.33 L365.0,155.40 L366.0,155.48 L367.0,155.55 L368.0,155.63 L369.0,155.70 L370.0,155.77 L371.0,155.84 L372.0,155.91 L373.0,155.98 L374.0,156.05 L375.0,156.11 L376.0,156.18 L377.0,156.24 L378.0,156.30 L379.0,156.36 L380.0,156.43 L381.0,156.49 L382.0,156.54 L383.0,156.60 L384.0,156.66 L385.0,156.72 L386.0,156.77 L387.0,156.82 L388.0,156.88 L389.0,156.93 L390.0,156.98" fill="none" stroke="#00ff00" stroke-width="1.15" stroke-dasharray="5.3 2.2"/>
<path d="M28.8,103.51 L29.8,103.58 L30.8,103.65 L31.8,103.72 L32.8,103.78 L33.8,103.84 L34.8,103.90 L35.8,103.95 L36.8,104.01 L37.8,104.06 L38.8,104.11 L39.8,104.16 L40.8,104.20 L41.8,104.25 L42.8,104.29 L43.8,104.33 L44.8,104.37 L45.8,104.41 L46.8,104.44 L47.8,104.47 L48.8,104.51 L49.8,104.54 L50.8,104.57 L51.8,104.59 L52.8,104.62 L53.8,104.64 L54.8,104.67 L55.8,104.69 L56.8,104.71 L57.8,104.73 L58.8,104.75 L59.8,104.77 L60.8,104.78 L61.8,104.80 L62.8,104.81 L63.8,104.83 L64.8,104.84 L65.8,104.85 L66.8,104.86 L67.8,104.87 L68.8,104.88 L69.8,104.89 L70.8,104.90 L71.8,104.90 L72.8,104.91 L73.8,104.92 L74.8,104.92 L75.8,104.93 L76.8,104.93 L77.8,104.94 L78.8,104.94 L79.8,104.94 L80.8,104.95 L81.8,104.95 L82.8,104.95 L83.8,104.96 L84.8,104.96 L85.8,104.96 L86.8,104.96 L87.8,104.97 L88.8,104.97 L89.8,104.97 L90.8,104.98 L91.8,104.98 L92.8,104.98 L93.8,104.99 L94.8,104.99 L95.8,105.00 L96.8,105.00 L97.8,105.01 L98.8,105.02 L99.8,105.02 L100.8,105.03 L101.8,105.04 L102.8,105.05 L103.8,105.06 L104.8,105.07 L105.8,105.08 L106.8,105.09 L107.8,105.10 L108.8,105.12 L109.8,105.13 L110.8,105.15 L111.8,105.17 L112.8,105.18 L113.8,105.20 L114.8,105.22 L115.8,105.25 L116.8,105.27 L117.8,105.29 L118.8,105.32 L119.8,105.35 L120.8,105.37 L121.8,105.40 L122.8,105.44 L123.8,105.47 L124.8,105.50 L125.8,105.54 L126.8,105.58 L127.8,105.62 L128.8,105.66 L129.8,105.70 L130.8,105.75 L131.8,105.80 L132.8,105.85 L133.8,105.90 L134.8,105.95 L135.8,106.01 L136.8,106.06 L137.8,106.12 L138.8,106.18 L139.8,106.25 L140.8,106.31 L141.8,106.38 L142.8,106.45 L143.8,106.53 L144.8,106.60 L145.8,106.68 L146.8,106.76 L147.8,106.85 L148.8,106.93 L149.8,107.02 L150.8,107.11 L151.8,107.21 L152.8,107.31 L153.8,107.41 L154.8,107.51 L155.8,107.61 L156.8,107.72 L157.8,107.84 L158.8,107.95 L159.8,108.07 L160.8,108.19 L161.8,108.31 L162.8,108.44 L163.8,108.57 L164.8,108.71 L165.8,108.84 L166.8,108.98 L167.8,109.13 L168.8,109.28 L169.8,109.43 L170.8,109.58 L171.8,109.74 L172.8,109.90 L173.8,110.07 L174.8,110.24 L175.8,110.41 L176.8,110.59 L177.8,110.77 L178.8,110.95 L179.8,111.14 L180.8,111.34 L181.8,111.53 L182.8,111.73 L183.8,111.94 L184.8,112.15 L185.8,112.36 L186.8,112.58 L187.8,112.80 L188.8,113.03 L189.8,113.26 L190.8,113.49 L191.8,113.73 L192.8,113.98 L193.8,114.22 L194.8,114.48 L195.8,114.73 L196.8,115.00 L197.8,115.26 L198.8,115.54 L199.8,115.82 L200.8,116.11 L201.8,116.41 L202.8,116.73 L203.8,117.05 L204.8,117.39 L205.8,117.75 L206.8,118.13 L207.8,118.52 L208.8,118.94 L209.8,119.37 L210.8,119.83 L211.8,120.32 L212.8,120.81 L213.8,121.30 L214.8,121.78 L215.8,122.25 L216.8,122.69 L217.8,123.09 L218.8,123.44 L219.8,123.73 L220.8,123.95 L221.8,124.08 L222.8,124.12 L223.8,124.02 L224.8,123.78 L225.8,123.38 L226.8,122.80 L227.8,122.01 L228.8,121.01 L229.8,119.76 L230.8,118.27 L231.8,116.54 L232.8,114.59 L233.8,112.43 L234.8,110.10 L235.8,107.69 L236.8,105.30 L237.8,103.02 L238.8,100.92 L239.8,99.07 L240.8,97.48 L241.8,96.10 L242.8,94.91 L243.8,93.88 L244.8,93.02 L245.8,92.29 L246.8,91.71 L247.8,91.25 L248.8,90.90 L249.8,90.65 L250.8,90.49 L251.8,90.41 L252.8,90.39 L253.8,90.44 L254.8,90.52 L255.8,90.64 L256.8,90.79 L257.8,90.94 L258.8,91.10 L259.8,91.25 L260.0,91.28 L260.4,91.34 L260.8,91.40 L261.2,91.46 L261.6,91.52 L262.0,91.57 L262.4,91.63 L262.8,91.69 L263.2,91.75 L263.6,91.80 L264.0,91.86 L264.4,91.92 L264.8,91.97 L265.2,92.03 L265.6,92.08 L266.0,92.14 L266.4,92.19 L266.8,92.24 L267.2,92.30 L267.6,92.35 L268.0,92.40 L268.4,92.45 L268.8,92.51 L269.2,92.56 L269.6,92.61 L270.0,92.66 L270.4,92.71 L270.8,92.76 L271.2,92.81 L271.6,92.86 L272.0,92.91 L272.4,92.96 L272.8,93.00 L273.2,93.05 L273.6,93.10 L274.0,93.15 L274.4,93.19 L274.8,93.24 L275.2,93.29 L275.6,93.33 L276.0,93.38 L276.4,93.42 L276.8,93.47 L277.2,93.51 L277.6,93.56 L278.0,93.60 L278.4,93.64 L278.8,93.69 L279.2,93.73 L279.6,93.77 L280.0,93.81 L280.4,93.86 L280.8,93.90 L281.2,93.94 L281.6,93.98 L282.0,94.02 L282.4,94.06 L282.8,94.10 L283.2,94.14 L283.6,94.18 L284.0,94.22 L284.4,94.26 L284.8,94.29 L285.2,94.33 L285.6,94.37 L286.0,94.41 L286.4,94.44 L286.8,94.48 L287.2,94.52 L287.6,94.55 L288.0,94.59 L288.4,94.63 L288.8,94.66 L289.2,94.70 L289.6,94.73 L290.0,94.77 L290.4,94.80 L290.8,94.83 L291.2,94.87 L291.6,94.90 L292.0,94.94 L293.0,95.02 L294.0,95.10 L295.0,95.18 L296.0,95.25 L297.0,95.33 L298.0,95.40 L299.0,95.47 L300.0,95.54 L301.0,95.61 L302.0,95.68 L303.0,95.75 L304.0,95.81 L305.0,95.88 L306.0,95.94 L307.0,96.00 L308.0,96.06 L309.0,96.12 L310.0,96.17 L311.0,96.23 L312.0,96.28 L313.0,96.34 L314.0,96.39 L315.0,96.44 L316.0,96.49 L317.0,96.54 L318.0,96.59 L319.0,96.64 L320.0,96.68 L321.0,96.73 L322.0,96.77 L323.0,96.81 L324.0,96.86 L325.0,96.90 L326.0,96.94 L327.0,96.98 L328.0,97.02 L329.0,97.05 L330.0,97.09 L331.0,97.13 L332.0,97.17 L333.0,97.20 L334.0,97.24 L335.0,97.27 L336.0,97.30 L337.0,97.34 L338.0,97.37 L339.0,97.40 L340.0,97.43 L341.0,97.47 L342.0,97.50 L343.0,97.53 L344.0,97.56 L345.0,97.59 L346.0,97.62 L347.0,97.65 L348.0,97.67 L349.0,97.70 L350.0,97.73 L351.0,97.76 L352.0,97.79 L353.0,97.82 L354.0,97.84 L355.0,97.87 L356.0,97.90 L357.0,97.93 L358.0,97.96 L359.0,97.98 L360.0,98.01 L361.0,98.04 L362.0,98.07 L363.0,98.10 L364.0,98.13 L365.0,98.15 L366.0,98.18 L367.0,98.21 L368.0,98.24 L369.0,98.27 L370.0,98.30 L371.0,98.33 L372.0,98.36 L373.0,98.39 L374.0,98.43 L375.0,98.46 L376.0,98.49 L377.0,98.52 L378.0,98.56 L379.0,98.59 L380.0,98.63 L381.0,98.66 L382.0,98.70 L383.0,98.73 L384.0,98.77 L385.0,98.81 L386.0,98.85 L387.0,98.89 L388.0,98.93 L389.0,98.97 L390.0,99.01" fill="none" stroke="#0000ff" stroke-width="1.08" stroke-dasharray="2.9 3.6"/>
<path d="M28.8,243.64 L29.8,243.60 L30.8,243.56 L31.8,243.52 L32.8,243.47 L33.8,243.43 L34.8,243.38 L35.8,243.33 L36.8,243.28 L37.8,243.23 L38.8,243.17 L39.8,243.12 L40.8,243.06 L41.8,243.00 L42.8,242.94 L43.8,242.87 L44.8,242.81 L45.8,242.74 L46.8,242.67 L47.8,242.60 L48.8,242.53 L49.8,242.45 L50.8,242.38 L51.8,242.30 L52.8,242.22 L53.8,242.14 L54.8,242.06 L55.8,241.97 L56.8,241.89 L57.8,241.80 L58.8,241.71 L59.8,241.62 L60.8,241.53 L61.8,241.44 L62.8,241.34 L63.8,241.25 L64.8,241.15 L65.8,241.05 L66.8,240.95 L67.8,240.85 L68.8,240.75 L69.8,240.64 L70.8,240.53 L71.8,240.43 L72.8,240.32 L73.8,240.21 L74.8,240.10 L75.8,239.98 L76.8,239.87 L77.8,239.75 L78.8,239.64 L79.8,239.52 L80.8,239.40 L81.8,239.28 L82.8,239.16 L83.8,239.04 L84.8,238.91 L85.8,238.79 L86.8,238.66 L87.8,238.53 L88.8,238.40 L89.8,238.26 L90.8,238.13 L91.8,237.99 L92.8,237.84 L93.8,237.70 L94.8,237.55 L95.8,237.40 L96.8,237.24 L97.8,237.08 L98.8,236.91 L99.8,236.74 L100.8,236.57 L101.8,236.39 L102.8,236.20 L103.8,236.01 L104.8,235.82 L105.8,235.61 L106.8,235.41 L107.8,235.19 L108.8,234.97 L109.8,234.75 L110.8,234.51 L111.8,234.27 L112.8,234.02 L113.8,233.77 L114.8,233.51 L115.8,233.24 L116.8,232.96 L117.8,232.67 L118.8,232.38 L119.8,232.07 L120.8,231.76 L121.8,231.44 L122.8,231.10 L123.8,230.76 L124.8,230.41 L125.8,230.05 L126.8,229.68 L127.8,229.30 L128.8,228.91 L129.8,228.51 L130.8,228.09 L131.8,227.67 L132.8,227.23 L133.8,226.79 L134.8,226.33 L135.8,225.86 L136.8,225.37 L137.8,224.88 L138.8,224.37 L139.8,223.85 L140.8,223.31 L141.8,222.77 L142.8,222.21 L143.8,221.63 L144.8,221.04 L145.8,220.44 L146.8,219.82 L147.8,219.19 L148.8,218.54 L149.8,217.87 L150.8,217.19 L151.8,216.48 L152.8,215.76 L153.8,215.01 L154.8,214.24 L155.8,213.45 L156.8,212.63 L157.8,211.79 L158.8,210.92 L159.8,210.02 L160.8,209.09 L161.8,208.14 L162.8,207.15 L163.8,206.13 L164.8,205.09 L165.8,204.02 L166.8,202.92 L167.8,201.79 L168.8,200.63 L169.8,199.45 L170.8,198.24 L171.8,197.00 L172.8,195.74 L173.8,194.45 L174.8,193.14 L175.8,191.80 L176.8,190.44 L177.8,189.06 L178.8,187.66 L179.8,186.27 L180.8,184.89 L181.8,183.54 L182.8,182.24 L183.8,181.00 L184.8,179.84 L185.8,178.76 L186.8,177.79 L187.8,176.94 L188.8,176.23 L189.8,175.66 L190.8,175.26 L191.8,175.03 L192.8,175.00 L193.8,175.17 L194.8,175.56 L195.8,176.15 L196.8,176.95 L197.8,177.94 L198.8,179.12 L199.8,180.47 L200.8,182.00 L201.8,183.69 L202.8,185.53 L203.8,187.52 L204.8,189.60 L205.8,191.75 L206.8,193.90 L207.8,196.02 L208.8,198.06 L209.8,199.98 L210.8,201.73 L211.8,203.27 L212.8,204.55 L213.8,205.52 L214.8,206.16 L215.8,206.44 L216.8,206.40 L217.8,206.05 L218.8,205.43 L219.8,204.56 L220.8,203.45 L221.8,202.15 L222.8,200.66 L223.8,199.01 L224.8,197.24 L225.8,195.35 L226.8,193.39 L227.8,191.36 L228.8,189.31 L229.8,187.26 L230.8,185.25 L231.8,183.31 L232.8,181.49 L233.8,179.82 L234.8,178.33 L235.8,177.06 L236.8,176.05 L237.8,175.33 L238.8,174.91 L239.8,174.76 L240.8,174.85 L241.8,175.17 L242.8,175.69 L243.8,176.38 L244.8,177.22 L245.8,178.18 L246.8,179.24 L247.8,180.37 L248.8,181.55 L249.8,182.76 L250.8,183.97 L251.8,185.17 L252.8,186.37 L253.8,187.56 L254.8,188.74 L255.8,189.92 L256.8,191.08 L257.8,192.24 L258.8,193.39 L259.8,194.53 L260.0,194.76 L260.4,195.21 L260.8,195.66 L261.2,196.11 L261.6,196.56 L262.0,197.00 L262.4,197.45 L262.8,197.89 L263.2,198.33 L263.6,198.77 L264.0,199.20 L264.4,199.64 L264.8,200.07 L265.2,200.50 L265.6,200.93 L266.0,201.35 L266.4,201.78 L266.8,202.20 L267.2,202.62 L267.6,203.04 L268.0,203.45 L268.4,203.86 L268.8,204.27 L269.2,204.68 L269.6,205.09 L270.0,205.49 L270.4,205.89 L270.8,206.29 L271.2,206.68 L271.6,207.07 L272.0,207.46 L272.4,207.85 L272.8,208.24 L273.2,208.62 L273.6,209.00 L274.0,209.37 L274.4,209.75 L274.8,210.12 L275.2,210.48 L275.6,210.85 L276.0,211.21 L276.4,211.57 L276.8,211.92 L277.2,212.28 L277.6,212.63 L278.0,212.97 L278.4,213.31 L278.8,213.65 L279.2,213.99 L279.6,214.32 L280.0,214.65 L280.4,214.98 L280.8,215.30 L281.2,215.62 L281.6,215.94 L282.0,216.25 L282.4,216.56 L282.8,216.87 L283.2,217.17 L283.6,217.47 L284.0,217.77 L284.4,218.06 L284.8,218.35 L285.2,218.64 L285.6,218.92 L286.0,219.21 L286.4,219.48 L286.8,219.76 L287.2,220.03 L287.6,220.30 L288.0,220.57 L288.4,220.83 L288.8,221.09 L289.2,221.35 L289.6,221.60 L290.0,221.85 L290.4,222.10 L290.8,222.35 L291.2,222.59 L291.6,222.83 L292.0,223.07 L293.0,223.65 L294.0,224.21 L295.0,224.76 L296.0,225.29 L297.0,225.81 L298.0,226.31 L299.0,226.80 L300.0,227.27 L301.0,227.72 L302.0,228.16 L303.0,228.59 L304.0,229.00 L305.0,229.41 L306.0,229.79 L307.0,230.17 L308.0,230.53 L309.0,230.88 L310.0,231.22 L311.0,231.55 L312.0,231.87 L313.0,232.17 L314.0,232.47 L315.0,232.75 L316.0,233.03 L317.0,233.30 L318.0,233.56 L319.0,233.81 L320.0,234.05 L321.0,234.28 L322.0,234.50 L323.0,234.72 L324.0,234.93 L325.0,235.14 L326.0,235.34 L327.0,235.53 L328.0,235.71 L329.0,235.89 L330.0,236.07 L331.0,236.24 L332.0,236.41 L333.0,236.57 L334.0,236.73 L335.0,236.88 L336.0,237.03 L337.0,237.18 L338.0,237.33 L339.0,237.48 L340.0,237.62 L341.0,237.76 L342.0,237.90 L343.0,238.04 L344.0,238.18 L345.0,238.32 L346.0,238.45 L347.0,238.59 L348.0,238.73 L349.0,238.86 L350.0,239.00 L351.0,239.13 L352.0,239.27 L353.0,239.40 L354.0,239.53 L355.0,239.66 L356.0,239.79 L357.0,239.92 L358.0,240.04 L359.0,240.16 L360.0,240.29 L361.0,240.41 L362.0,240.53 L363.0,240.64 L364.0,240.76 L365.0,240.87 L366.0,240.98 L367.0,241.09 L368.0,241.20 L369.0,241.30 L370.0,241.40 L371.0,241.50 L372.0,241.60 L373.0,241.69 L374.0,241.78 L375.0,241.87 L376.0,241.95 L377.0,242.03 L378.0,242.11 L379.0,242.19 L380.0,242.26 L381.0,242.33 L382.0,242.40 L383.0,242.46 L384.0,242.52 L385.0,242.57 L386.0,242.62 L387.0,242.67 L388.0,242.71 L389.0,242.75 L390.0,242.79" fill="none" stroke="#ff0000" stroke-width="2.25" stroke-linejoin="round"/>
<path d="M28.8,243.69 L29.8,243.64 L30.8,243.58 L31.8,243.53 L32.8,243.48 L33.8,243.42 L34.8,243.37 L35.8,243.31 L36.8,243.25 L37.8,243.19 L38.8,243.13 L39.8,243.07 L40.8,243.01 L41.8,242.95 L42.8,242.89 L43.8,242.82 L44.8,242.76 L45.8,242.69 L46.8,242.62 L47.8,242.55 L48.8,242.48 L49.8,242.41 L50.8,242.34 L51.8,242.27 L52.8,242.19 L53.8,242.11 L54.8,242.04 L55.8,241.96 L56.8,241.88 L57.8,241.80 L58.8,241.71 L59.8,241.63 L60.8,241.54 L61.8,241.46 L62.8,241.37 L63.8,241.28 L64.8,241.19 L65.8,241.09 L66.8,241.00 L67.8,240.90 L68.8,240.80 L69.8,240.70 L70.8,240.60 L71.8,240.50 L72.8,240.39 L73.8,240.28 L74.8,240.17 L75.8,240.06 L76.8,239.95 L77.8,239.83 L78.8,239.72 L79.8,239.60 L80.8,239.47 L81.8,239.35 L82.8,239.22 L83.8,239.09 L84.8,238.96 L85.8,238.83 L86.8,238.69 L87.8,238.55 L88.8,238.41 L89.8,238.26 L90.8,238.11 L91.8,237.96 L92.8,237.81 L93.8,237.65 L94.8,237.49 L95.8,237.33 L96.8,237.16 L97.8,236.99 L98.8,236.82 L99.8,236.64 L100.8,236.46 L101.8,236.28 L102.8,236.09 L103.8,235.90 L104.8,235.70 L105.8,235.50 L106.8,235.30 L107.8,235.09 L108.8,234.88 L109.8,234.66 L110.8,234.44 L111.8,234.21 L112.8,233.98 L113.8,233.75 L114.8,233.51 L115.8,233.26 L116.8,233.01 L117.8,232.75 L118.8,232.49 L119.8,232.22 L120.8,231.95 L121.8,231.66 L122.8,231.38 L123.8,231.09 L124.8,230.79 L125.8,230.48 L126.8,230.17 L127.8,229.85 L128.8,229.52 L129.8,229.19 L130.8,228.85 L131.8,228.50 L132.8,228.14 L133.8,227.78 L134.8,227.40 L135.8,227.02 L136.8,226.63 L137.8,226.23 L138.8,225.82 L139.8,225.41 L140.8,224.98 L141.8,224.54 L142.8,224.10 L143.8,223.64 L144.8,223.17 L145.8,222.70 L146.8,222.21 L147.8,221.71 L148.8,221.20 L149.8,220.68 L150.8,220.15 L151.8,219.61 L152.8,219.05 L153.8,218.48 L154.8,217.90 L155.8,217.31 L156.8,216.71 L157.8,216.09 L158.8,215.46 L159.8,214.82 L160.8,214.16 L161.8,213.49 L162.8,212.81 L163.8,212.12 L164.8,211.41 L165.8,210.69 L166.8,209.95 L167.8,209.21 L168.8,208.45 L169.8,207.67 L170.8,206.89 L171.8,206.09 L172.8,205.28 L173.8,204.46 L174.8,203.63 L175.8,202.79 L176.8,201.94 L177.8,201.08 L178.8,200.21 L179.8,199.33 L180.8,198.44 L181.8,197.55 L182.8,196.66 L183.8,195.76 L184.8,194.85 L185.8,193.95 L186.8,193.04 L187.8,192.14 L188.8,191.24 L189.8,190.34 L190.8,189.45 L191.8,188.57 L192.8,187.70 L193.8,186.84 L194.8,185.99 L195.8,185.16 L196.8,184.35 L197.8,183.56 L198.8,182.80 L199.8,182.05 L200.8,181.34 L201.8,180.65 L202.8,180.00 L203.8,179.38 L204.8,178.80 L205.8,178.26 L206.8,177.76 L207.8,177.29 L208.8,176.88 L209.8,176.51 L210.8,176.18 L211.8,175.91 L212.8,175.69 L213.8,175.51 L214.8,175.39 L215.8,175.32 L216.8,175.30 L217.8,175.33 L218.8,175.42 L219.8,175.56 L220.8,175.75 L221.8,175.99 L222.8,176.28 L223.8,176.61 L224.8,177.00 L225.8,177.43 L226.8,177.90 L227.8,178.42 L228.8,178.97 L229.8,179.57 L230.8,180.19 L231.8,180.86 L232.8,181.55 L233.8,182.27 L234.8,183.02 L235.8,183.80 L236.8,184.59 L237.8,185.41 L238.8,186.25 L239.8,187.10 L240.8,187.96 L241.8,188.83 L242.8,189.72 L243.8,190.61 L244.8,191.51 L245.8,192.41 L246.8,193.31 L247.8,194.22 L248.8,195.12 L249.8,196.03 L250.8,196.92 L251.8,197.82 L252.8,198.71 L253.8,199.59 L254.8,200.47 L255.8,201.34 L256.8,202.19 L257.8,203.04 L258.8,203.88 L259.8,204.71 L260.0,204.87 L260.4,205.20 L260.8,205.53 L261.2,205.85 L261.6,206.17 L262.0,206.49 L262.4,206.81 L262.8,207.13 L263.2,207.44 L263.6,207.75 L264.0,208.06 L264.4,208.37 L264.8,208.68 L265.2,208.98 L265.6,209.28 L266.0,209.58 L266.4,209.88 L266.8,210.18 L267.2,210.47 L267.6,210.76 L268.0,211.05 L268.4,211.34 L268.8,211.62 L269.2,211.91 L269.6,212.19 L270.0,212.47 L270.4,212.74 L270.8,213.02 L271.2,213.29 L271.6,213.56 L272.0,213.83 L272.4,214.10 L272.8,214.36 L273.2,214.62 L273.6,214.88 L274.0,215.14 L274.4,215.40 L274.8,215.65 L275.2,215.90 L275.6,216.15 L276.0,216.40 L276.4,216.65 L276.8,216.89 L277.2,217.13 L277.6,217.37 L278.0,217.61 L278.4,217.85 L278.8,218.08 L279.2,218.31 L279.6,218.54 L280.0,218.77 L280.4,218.99 L280.8,219.22 L281.2,219.44 L281.6,219.66 L282.0,219.88 L282.4,220.10 L282.8,220.31 L283.2,220.52 L283.6,220.73 L284.0,220.94 L284.4,221.15 L284.8,221.36 L285.2,221.56 L285.6,221.76 L286.0,221.96 L286.4,222.16 L286.8,222.36 L287.2,222.55 L287.6,222.75 L288.0,222.94 L288.4,223.13 L288.8,223.32 L289.2,223.50 L289.6,223.69 L290.0,223.87 L290.4,224.05 L290.8,224.23 L291.2,224.41 L291.6,224.59 L292.0,224.76 L293.0,225.19 L294.0,225.62 L295.0,226.03 L296.0,226.43 L297.0,226.83 L298.0,227.21 L299.0,227.59 L300.0,227.96 L301.0,228.32 L302.0,228.67 L303.0,229.02 L304.0,229.36 L305.0,229.69 L306.0,230.01 L307.0,230.33 L308.0,230.63 L309.0,230.94 L310.0,231.23 L311.0,231.52 L312.0,231.81 L313.0,232.08 L314.0,232.35 L315.0,232.62 L316.0,232.88 L317.0,233.13 L318.0,233.38 L319.0,233.63 L320.0,233.86 L321.0,234.10 L322.0,234.33 L323.0,234.55 L324.0,234.77 L325.0,234.99 L326.0,235.20 L327.0,235.40 L328.0,235.60 L329.0,235.80 L330.0,235.99 L331.0,236.18 L332.0,236.37 L333.0,236.55 L334.0,236.73 L335.0,236.91 L336.0,237.08 L337.0,237.25 L338.0,237.41 L339.0,237.57 L340.0,237.73 L341.0,237.89 L342.0,238.04 L343.0,238.19 L344.0,238.33 L345.0,238.48 L346.0,238.62 L347.0,238.76 L348.0,238.89 L349.0,239.03 L350.0,239.16 L351.0,239.29 L352.0,239.41 L353.0,239.53 L354.0,239.66 L355.0,239.78 L356.0,239.89 L357.0,240.01 L358.0,240.12 L359.0,240.23 L360.0,240.34 L361.0,240.45 L362.0,240.55 L363.0,240.65 L364.0,240.75 L365.0,240.85 L366.0,240.95 L367.0,241.05 L368.0,241.14 L369.0,241.23 L370.0,241.32 L371.0,241.41 L372.0,241.50 L373.0,241.59 L374.0,241.67 L375.0,241.76 L376.0,241.84 L377.0,241.92 L378.0,242.00 L379.0,242.08 L380.0,242.15 L381.0,242.23 L382.0,242.30 L383.0,242.37 L384.0,242.45 L385.0,242.52 L386.0,242.59 L387.0,242.65 L388.0,242.72 L389.0,242.79 L390.0,242.85" fill="none" stroke="#00ff00" stroke-width="1.15" stroke-dasharray="5.3 2.2"/>
<path d="M28.8,175.81 L29.8,175.82 L30.8,175.82 L31.8,175.83 L32.8,175.84 L33.8,175.85 L34.8,175.85 L35.8,175.86 L36.8,175.86 L37.8,175.87 L38.8,175.87 L39.8,175.87 L40.8,175.88 L41.8,175.88 L42.8,175.88 L43.8,175.88 L44.8,175.88 L45.8,175.88 L46.8,175.88 L47.8,175.88 L48.8,175.88 L49.8,175.88 L50.8,175.88 L51.8,175.88 L52.8,175.87 L53.8,175.87 L54.8,175.87 L55.8,175.87 L56.8,175.86 L57.8,175.86 L58.8,175.86 L59.8,175.85 L60.8,175.85 L61.8,175.85 L62.8,175.84 L63.8,175.84 L64.8,175.83 L65.8,175.83 L66.8,175.82 L67.8,175.82 L68.8,175.82 L69.8,175.81 L70.8,175.81 L71.8,175.80 L72.8,175.80 L73.8,175.80 L74.8,175.79 L75.8,175.79 L76.8,175.78 L77.8,175.78 L78.8,175.78 L79.8,175.77 L80.8,175.77 L81.8,175.77 L82.8,175.76 L83.8,175.76 L84.8,175.76 L85.8,175.76 L86.8,175.76 L87.8,175.76 L88.8,175.76 L89.8,175.76 L90.8,175.76 L91.8,175.76 L92.8,175.76 L93.8,175.76 L94.8,175.76 L95.8,175.76 L96.8,175.76 L97.8,175.77 L98.8,175.77 L99.8,175.77 L100.8,175.78 L101.8,175.78 L102.8,175.79 L103.8,175.80 L104.8,175.80 L105.8,175.81 L106.8,175.82 L107.8,175.83 L108.8,175.84 L109.8,175.85 L110.8,175.86 L111.8,175.87 L112.8,175.89 L113.8,175.90 L114.8,175.91 L115.8,175.93 L116.8,175.95 L117.8,175.96 L118.8,175.98 L119.8,176.00 L120.8,176.02 L121.8,176.04 L122.8,176.06 L123.8,176.08 L124.8,176.11 L125.8,176.13 L126.8,176.16 L127.8,176.18 L128.8,176.21 L129.8,176.24 L130.8,176.27 L131.8,176.30 L132.8,176.33 L133.8,176.36 L134.8,176.40 L135.8,176.43 L136.8,176.47 L137.8,176.51 L138.8,176.55 L139.8,176.59 L140.8,176.63 L141.8,176.67 L142.8,176.71 L143.8,176.76 L144.8,176.81 L145.8,176.85 L146.8,176.90 L147.8,176.95 L148.8,177.01 L149.8,177.06 L150.8,177.12 L151.8,177.17 L152.8,177.23 L153.8,177.29 L154.8,177.35 L155.8,177.41 L156.8,177.48 L157.8,177.54 L158.8,177.61 L159.8,177.68 L160.8,177.75 L161.8,177.82 L162.8,177.89 L163.8,177.97 L164.8,178.05 L165.8,178.13 L166.8,178.22 L167.8,178.31 L168.8,178.41 L169.8,178.52 L170.8,178.64 L171.8,178.77 L172.8,178.91 L173.8,179.07 L174.8,179.24 L175.8,179.43 L176.8,179.64 L177.8,179.86 L178.8,180.11 L179.8,180.38 L180.8,180.67 L181.8,180.99 L182.8,181.33 L183.8,181.70 L184.8,182.09 L185.8,182.52 L186.8,182.98 L187.8,183.47 L188.8,183.99 L189.8,184.55 L190.8,185.15 L191.8,185.79 L192.8,186.47 L193.8,187.20 L194.8,187.97 L195.8,188.79 L196.8,189.67 L197.8,190.59 L198.8,191.57 L199.8,192.61 L200.8,193.69 L201.8,194.81 L202.8,195.95 L203.8,197.10 L204.8,198.25 L205.8,199.38 L206.8,200.48 L207.8,201.54 L208.8,202.54 L209.8,203.46 L210.8,204.31 L211.8,205.05 L212.8,205.68 L213.8,206.19 L214.8,206.55 L215.8,206.76 L216.8,206.80 L217.8,206.67 L218.8,206.37 L219.8,205.92 L220.8,205.34 L221.8,204.64 L222.8,203.82 L223.8,202.92 L224.8,201.93 L225.8,200.88 L226.8,199.78 L227.8,198.65 L228.8,197.49 L229.8,196.32 L230.8,195.15 L231.8,194.01 L232.8,192.90 L233.8,191.83 L234.8,190.83 L235.8,189.89 L236.8,189.02 L237.8,188.21 L238.8,187.46 L239.8,186.76 L240.8,186.12 L241.8,185.52 L242.8,184.97 L243.8,184.46 L244.8,183.99 L245.8,183.56 L246.8,183.16 L247.8,182.80 L248.8,182.46 L249.8,182.14 L250.8,181.84 L251.8,181.57 L252.8,181.31 L253.8,181.06 L254.8,180.81 L255.8,180.58 L256.8,180.35 L257.8,180.13 L258.8,179.92 L259.8,179.71 L260.0,179.67 L260.4,179.59 L260.8,179.51 L261.2,179.43 L261.6,179.35 L262.0,179.27 L262.4,179.20 L262.8,179.12 L263.2,179.05 L263.6,178.98 L264.0,178.90 L264.4,178.83 L264.8,178.76 L265.2,178.69 L265.6,178.62 L266.0,178.56 L266.4,178.49 L266.8,178.42 L267.2,178.36 L267.6,178.29 L268.0,178.23 L268.4,178.17 L268.8,178.11 L269.2,178.05 L269.6,177.99 L270.0,177.93 L270.4,177.87 L270.8,177.82 L271.2,177.76 L271.6,177.70 L272.0,177.65 L272.4,177.60 L272.8,177.54 L273.2,177.49 L273.6,177.44 L274.0,177.39 L274.4,177.34 L274.8,177.29 L275.2,177.25 L275.6,177.20 L276.0,177.15 L276.4,177.11 L276.8,177.06 L277.2,177.02 L277.6,176.98 L278.0,176.93 L278.4,176.89 L278.8,176.85 L279.2,176.81 L279.6,176.77 L280.0,176.74 L280.4,176.70 L280.8,176.66 L281.2,176.62 L281.6,176.59 L282.0,176.56 L282.4,176.52 L282.8,176.49 L283.2,176.46 L283.6,176.42 L284.0,176.39 L284.4,176.36 L284.8,176.33 L285.2,176.30 L285.6,176.28 L286.0,176.25 L286.4,176.22 L286.8,176.19 L287.2,176.17 L287.6,176.14 L288.0,176.12 L288.4,176.10 L288.8,176.07 L289.2,176.05 L289.6,176.03 L290.0,176.01 L290.4,175.99 L290.8,175.97 L291.2,175.95 L291.6,175.93 L292.0,175.91 L293.0,175.87 L294.0,175.83 L295.0,175.79 L296.0,175.76 L297.0,175.73 L298.0,175.71 L299.0,175.69 L300.0,175.67 L301.0,175.65 L302.0,175.64 L303.0,175.63 L304.0,175.62 L305.0,175.62 L306.0,175.62 L307.0,175.62 L308.0,175.62 L309.0,175.63 L310.0,175.63 L311.0,175.65 L312.0,175.66 L313.0,175.67 L314.0,175.69 L315.0,175.71 L316.0,175.73 L317.0,175.75 L318.0,175.78 L319.0,175.80 L320.0,175.83 L321.0,175.86 L322.0,175.89 L323.0,175.93 L324.0,175.96 L325.0,175.99 L326.0,176.03 L327.0,176.07 L328.0,176.10 L329.0,176.14 L330.0,176.18 L331.0,176.22 L332.0,176.26 L333.0,176.30 L334.0,176.35 L335.0,176.39 L336.0,176.43 L337.0,176.47 L338.0,176.52 L339.0,176.56 L340.0,176.60 L341.0,176.65 L342.0,176.69 L343.0,176.73 L344.0,176.78 L345.0,176.82 L346.0,176.86 L347.0,176.90 L348.0,176.94 L349.0,176.98 L350.0,177.02 L351.0,177.06 L352.0,177.10 L353.0,177.13 L354.0,177.17 L355.0,177.20 L356.0,177.24 L357.0,177.27 L358.0,177.30 L359.0,177.33 L360.0,177.35 L361.0,177.38 L362.0,177.40 L363.0,177.42 L364.0,177.44 L365.0,177.46 L366.0,177.48 L367.0,177.49 L368.0,177.51 L369.0,177.51 L370.0,177.52 L371.0,177.53 L372.0,177.53 L373.0,177.53 L374.0,177.53 L375.0,177.52 L376.0,177.51 L377.0,177.50 L378.0,177.49 L379.0,177.47 L380.0,177.45 L381.0,177.43 L382.0,177.40 L383.0,177.37 L384.0,177.33 L385.0,177.30 L386.0,177.26 L387.0,177.21 L388.0,177.16 L389.0,177.11 L390.0,177.06" fill="none" stroke="#0000ff" stroke-width="1.08" stroke-dasharray="2.9 3.6"/>
</svg>
<svg width="388" height="284" viewBox="0 0 388 284" style="position:absolute;left:0;top:0;font-family:'Liberation Serif',serif;fill:#000;filter:grayscale(1)"><style>text{stroke:#fff;stroke-width:0.15px}</style><text x="21.93" y="11.60" text-anchor="end" style="font-size:15.8px;">1</text>
<text x="22.23" y="47.30" text-anchor="end" style="font-size:15.8px;">0.5</text>
<text x="22.23" y="83.00" text-anchor="end" style="font-size:15.8px;">0</text>
<text x="21.93" y="95.70" text-anchor="end" style="font-size:15.8px;">1</text>
<text x="22.23" y="131.50" text-anchor="end" style="font-size:15.8px;">0.5</text>
<text x="22.23" y="167.30" text-anchor="end" style="font-size:15.8px;">0</text>
<text x="21.93" y="180.40" text-anchor="end" style="font-size:15.8px;">1</text>
<text x="22.23" y="217.00" text-anchor="end" style="font-size:15.8px;">0.5</text>
<text x="22.23" y="254.10" text-anchor="end" style="font-size:15.8px;">0</text>
<text x="55.10" y="267.30" text-anchor="middle" style="font-size:15.8px;">-3</text>
<text x="108.85" y="267.30" text-anchor="middle" style="font-size:15.8px;">-2</text>
<text x="162.60" y="267.30" text-anchor="middle" style="font-size:15.8px;">-1</text>
<text x="216.35" y="267.30" text-anchor="middle" style="font-size:15.8px;">0</text>
<text x="270.10" y="267.30" text-anchor="middle" style="font-size:15.8px;">1</text>
<text x="323.85" y="267.30" text-anchor="middle" style="font-size:15.8px;">2</text>
<text x="377.60" y="267.30" text-anchor="middle" style="font-size:15.8px;">3</text>
<text x="323.54" y="53.50" text-anchor="start" style="font-size:17px;font-style:italic;">t</text>
<path d="M329.70,57.30 L335.40,40.50" stroke="#000" stroke-width="0.85" fill="none" stroke-linecap="round"/>
<text x="336.23" y="53.50" text-anchor="start" style="font-size:15.8px;">Γ</text>
<path d="M351.50,47.00 L362.00,47.00" stroke="#000" stroke-width="0.85" fill="none" stroke-linecap="round"/>
<path d="M351.50,50.70 L362.00,50.70" stroke="#000" stroke-width="0.85" fill="none" stroke-linecap="round"/>
<text x="366.57" y="53.50" text-anchor="start" style="font-size:15.8px;">1</text>
<text x="323.54" y="127.70" text-anchor="start" style="font-size:17px;font-style:italic;">t</text>
<path d="M329.70,131.50 L335.40,114.70" stroke="#000" stroke-width="0.85" fill="none" stroke-linecap="round"/>
<text x="336.23" y="127.70" text-anchor="start" style="font-size:15.8px;">Γ</text>
<path d="M351.50,121.20 L362.00,121.20" stroke="#000" stroke-width="0.85" fill="none" stroke-linecap="round"/>
<path d="M351.50,124.90 L362.00,124.90" stroke="#000" stroke-width="0.85" fill="none" stroke-linecap="round"/>
<text x="366.57" y="127.70" text-anchor="start" style="font-size:15.8px;">0.2</text>
<text x="323.54" y="201.00" text-anchor="start" style="font-size:17px;font-style:italic;">t</text>
<path d="M329.70,204.80 L335.40,188.00" stroke="#000" stroke-width="0.85" fill="none" stroke-linecap="round"/>
<text x="336.23" y="201.00" text-anchor="start" style="font-size:15.8px;">Γ</text>
<path d="M351.50,194.50 L362.00,194.50" stroke="#000" stroke-width="0.85" fill="none" stroke-linecap="round"/>
<path d="M351.50,198.20 L362.00,198.20" stroke="#000" stroke-width="0.85" fill="none" stroke-linecap="round"/>
<text x="366.57" y="201.00" text-anchor="start" style="font-size:15.8px;">0</text>
<text transform="translate(217.76,278.00) scale(1.16,1)" text-anchor="start" style="font-size:16px;font-style:italic;">E</text>
<text transform="translate(227.90,280.50) scale(1.22,1)" text-anchor="start" style="font-size:10.8px;font-weight:bold;font-style:italic;">F</text>
<path d="M237.50,281.60 L243.80,265.20" stroke="#000" stroke-width="0.85" fill="none" stroke-linecap="round"/>
<text x="244.13" y="278.00" text-anchor="start" style="font-size:15.8px;">Γ</text>
<path d="M11.0,191.9 C9.8,191.2 8.1,191.2 6.6,192.2 C4.4,193.6 2.9,196 3.1,198 C3.3,199.8 4.6,200.4 6,200.1 C7.8,199.7 9.7,198.2 10.9,195.8" fill="none" stroke="#000" stroke-width="0.95" stroke-linecap="round"/>
<path d="M5.0,193.5 C3.6,194.9 2.9,196.6 3.1,198 C3.2,199.1 3.8,199.8 4.6,200.1" fill="none" stroke="#000" stroke-width="1.3" stroke-linecap="round"/>
<path d="M10.9,195.8 C10.6,198.2 9.6,200.6 7.6,202.2 C6,203.4 4,203.5 2.9,202.6" fill="none" stroke="#000" stroke-width="1.05" stroke-linecap="round"/></svg>
</body></html>
